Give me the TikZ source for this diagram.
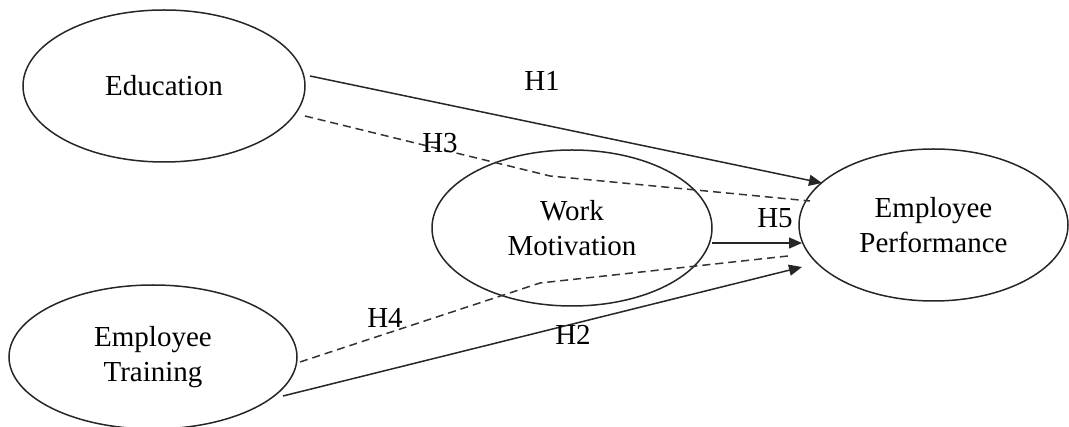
\documentclass[tikz,border=0pt]{standalone}
\usepackage{fontspec}
\setmainfont{Liberation Serif}
\usetikzlibrary{shapes.geometric,arrows.meta,calc}
\begin{document}
\begin{tikzpicture}[x=1pt,y=-1pt,
  construct/.style={ellipse,draw=black!85,line width=1.5pt,inner sep=0pt,align=center,
    font=\fontsize{29}{35}\selectfont},
  hlabel/.style={inner sep=0pt,font=\fontsize{29}{35}\selectfont},
  path/.style={line width=1.5pt,draw=black!85},
  dashpath/.style={line width=1.5pt,draw=black!80,dash pattern=on 8pt off 5pt},
  tip/.style={-{Triangle[length=13pt,width=11pt]}}]
\useasboundingbox (0,0) rectangle (1069,427);
\node[construct,minimum width=282pt,minimum height=152pt] (edu) at (164,86) {Education};
\node[construct,minimum width=280pt,minimum height=156pt] (wm) at (572,228) {Work\\Motivation};
\node[construct,minimum width=269pt,minimum height=152pt] (perf) at (933.5,225) {Employee\\Performance};
\node[construct,minimum width=288pt,minimum height=144pt] (trn) at (153,357) {Employee\\Training};
\coordinate (h3b) at (550,176);
\coordinate (h4b) at (540,283);
% H1
\draw[path,tip] ($(edu.center)+(146,-10)$) -- ($(perf.center)+(-111.5,-42)$);
% H3
\draw[dashpath] ($(edu.center)+(141,30)$) -- (h3b) -- ($(perf.center)+(-123.5,-24)$);
% H5
\draw[path,tip] ($(wm.center)+(140,15)$) -- ($(perf.center)+(-131.5,18)$);
% H4
\draw[dashpath] ($(trn.center)+(147,5)$) -- (h4b) -- ($(perf.center)+(-145.5,31)$);
% H2
\draw[path,tip] ($(trn.center)+(130,39)$) -- ($(perf.center)+(-131.5,42)$);
\node[hlabel] (l1) at (542,81) {H1};
\node[hlabel] (l3) at (440,143) {H3};
\node[hlabel] (l5) at (775,218) {H5};
\node[hlabel] (l4) at (385,318) {H4};
\node[hlabel] (l2) at (573,335) {H2};
\end{tikzpicture}
\end{document}
